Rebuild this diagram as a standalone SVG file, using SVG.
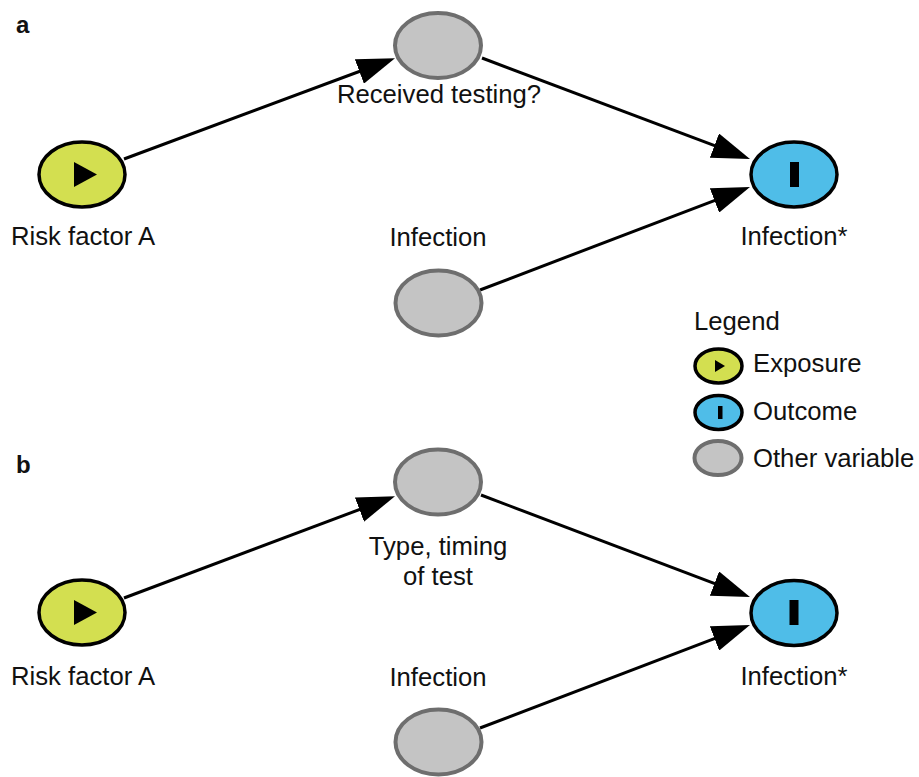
<svg xmlns="http://www.w3.org/2000/svg" width="919" height="777" viewBox="0 0 919 777">
<style>
text{font-family:"Liberation Sans",Arial,sans-serif;font-size:25.7px;fill:#111;}
.lbl{font-weight:bold;font-size:24px;}
.mid{text-anchor:middle;}
.exp{fill:#d3df50;stroke:#000;stroke-width:3.5;}
.out{fill:#4fbde8;stroke:#000;stroke-width:3.5;}
.oth{fill:#c4c4c4;stroke:#6e6e6e;stroke-width:4;}
.edge{stroke:#000;stroke-width:3;fill:none;marker-end:url(#ah);}
</style>
<defs>
<marker id="ah" markerUnits="userSpaceOnUse" viewBox="0 0 38 26" refX="30" refY="13" markerWidth="38" markerHeight="26" orient="auto">
<path d="M0,0 L38,13 L0,26 z" fill="#000"/>
</marker>
</defs>
<rect width="919" height="777" fill="#fff"/>
<text class="lbl" x="16" y="33">a</text>
<text class="lbl" x="16" y="473">b</text>
<g id="connectors">
<path class="edge" d="M124,159 L387.5,61"/>
<path class="edge" d="M482,58 L742.5,156.2"/>
<path class="edge" d="M480,290 L742.5,189.8"/>
<path class="edge" d="M124,598 L387.5,499"/>
<path class="edge" d="M481,495 L742.5,594.2"/>
<path class="edge" d="M480,728 L742.5,627.8"/>
</g>
<g id="a_risk">
<ellipse class="exp" cx="82" cy="174.5" rx="43" ry="32.5"/>
<path d="M74,162 L97,174.5 L74,187 z" fill="#000"/>
<text class="mid" x="83" y="245">Risk factor A</text>
</g>
<g id="a_testing">
<ellipse class="oth" cx="438" cy="45.5" rx="43" ry="32.5"/>
<text class="mid" x="439" y="103">Received testing?</text>
</g>
<g id="a_infection">
<ellipse class="oth" cx="438.5" cy="303" rx="43" ry="32.5"/>
<text class="mid" x="438" y="246">Infection</text>
</g>
<g id="a_outcome">
<ellipse class="out" cx="794" cy="174.5" rx="43" ry="32.5"/>
<rect x="790" y="162" width="9" height="25" fill="#000"/>
<text class="mid" x="794" y="245">Infection*</text>
</g>
<g id="b_risk">
<ellipse class="exp" cx="82" cy="612.5" rx="43" ry="32.5"/>
<path d="M74,600 L97,612.5 L74,625 z" fill="#000"/>
<text class="mid" x="83" y="685">Risk factor A</text>
</g>
<g id="b_testing">
<ellipse class="oth" cx="438" cy="482" rx="43" ry="32.5"/>
<text class="mid" x="438" y="555">Type, timing</text>
<text class="mid" x="438" y="585">of test</text>
</g>
<g id="b_infection">
<ellipse class="oth" cx="438.5" cy="742" rx="43" ry="32.5"/>
<text class="mid" x="438" y="686">Infection</text>
</g>
<g id="b_outcome">
<ellipse class="out" cx="794" cy="613" rx="43" ry="32.5"/>
<rect x="789.5" y="600" width="9" height="25" fill="#000"/>
<text class="mid" x="794" y="685">Infection*</text>
</g>
<g id="legend">
<text x="694" y="330">Legend</text>
<ellipse class="exp" cx="718.5" cy="366" rx="23.5" ry="17"/>
<path d="M715,360 L725,366 L715,372 z" fill="#000"/>
<text x="753" y="372">Exposure</text>
<ellipse class="out" cx="718.5" cy="412.5" rx="23.5" ry="17"/>
<rect x="718" y="406" width="4.5" height="13" fill="#000"/>
<text x="753" y="420">Outcome</text>
<ellipse class="oth" cx="718" cy="458" rx="23.5" ry="17"/>
<text x="753" y="467">Other variable</text>
</g>
</svg>
